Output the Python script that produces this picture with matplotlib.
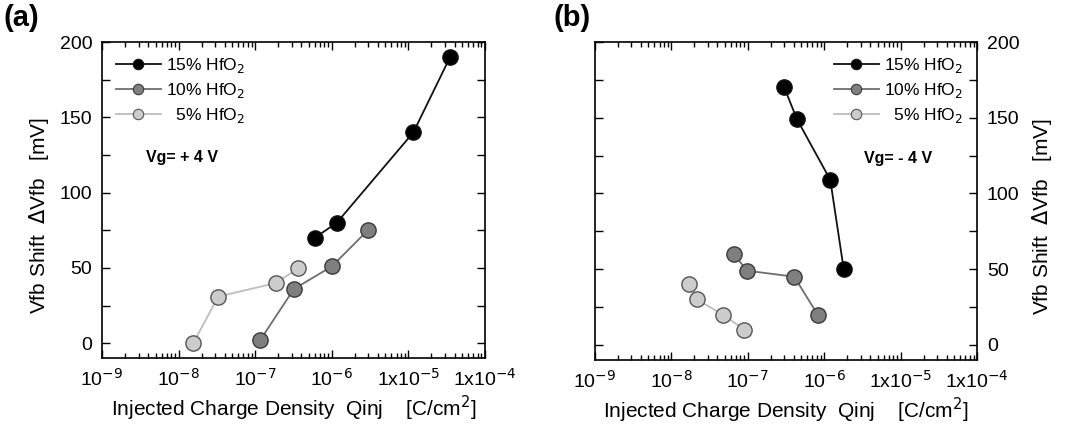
import matplotlib
matplotlib.use('Agg')
import matplotlib.pyplot as plt
from matplotlib.ticker import FixedLocator, FixedFormatter, LogLocator, NullFormatter, MultipleLocator

plt.rcParams['font.family'] = ['Liberation Sans', 'DejaVu Sans']

# Panel (a), Vg = +4 V
a_q15 = [6.0e-7, 1.16e-6, 1.16e-5, 3.5e-5]
a_v15 = [70, 80, 140, 190]
a_q10 = [1.16e-7, 3.2e-7, 1.0e-6, 2.95e-6]
a_v10 = [2, 36, 51, 75]
a_q5 = [1.55e-8, 3.3e-8, 1.88e-7, 3.67e-7]
a_v5 = [0, 31, 40, 50]

# Panel (b), Vg = -4 V
b_q15 = [3.0e-7, 4.4e-7, 1.2e-6, 1.8e-6]
b_v15 = [170, 149, 109, 50]
b_q10 = [6.6e-8, 9.7e-8, 4.05e-7, 8.2e-7]
b_v10 = [60, 49, 45, 20]
b_q5 = [1.72e-8, 2.15e-8, 4.7e-8, 9.0e-8]
b_v5 = [40, 30, 20, 10]

labels = ['15% HfO$_2$', '10% HfO$_2$', '  5% HfO$_2$']
xticks = [1e-9, 1e-8, 1e-7, 1e-6, 1e-5, 1e-4]
xticklabels = ['10$^{-9}$', '10$^{-8}$', '10$^{-7}$', '10$^{-6}$', '1x10$^{-5}$', '1x10$^{-4}$']

styles = [
    dict(color='#111111', mfc='black', mec='#111111', lw=1.3),
    dict(color='#6e6e6e', mfc='#7f7f7f', mec='#3a3a3a', lw=1.3),
    dict(color='#bdbdbd', mfc='#cccccc', mec='#555555', lw=1.3),
]

fig = plt.figure(figsize=(10.65, 4.25), dpi=100)
ax1 = fig.add_axes([0.0958, 0.157, 0.3596, 0.744])
ax2 = fig.add_axes([0.5587, 0.153, 0.3587, 0.748])


def setup(ax, data, legloc, vgtext, vgpos, right=False):
    handles = []
    for (q, v), st in zip(data, styles):
        ax.plot(q, v, marker='o', ms=11, mew=1.0, zorder=3, **st)
        h, = ax.plot([], [], marker='o', ms=7.5, mew=0.8, **st)
        handles.append(h)
    ax.set_xscale('log')
    ax.set_xlim(1e-9, 1e-4)
    ax.set_ylim(-10, 200)
    ax.xaxis.set_major_locator(FixedLocator(xticks))
    ax.xaxis.set_major_formatter(FixedFormatter(xticklabels))
    ax.xaxis.set_minor_locator(LogLocator(base=10, subs=range(2, 10), numticks=20))
    ax.xaxis.set_minor_formatter(NullFormatter())
    ax.yaxis.set_major_locator(MultipleLocator(50))
    ax.yaxis.set_minor_locator(MultipleLocator(25))
    ax.tick_params(which='both', direction='in', top=True, right=True, labelsize=14, width=1.0)
    ax.tick_params(which='major', length=6)
    ax.tick_params(which='minor', length=3.5)
    ax.tick_params(axis='x', pad=7)
    ax.tick_params(axis='y', pad=7)
    ax.tick_params(axis='y', which='minor', length=6)
    for s in ax.spines.values():
        s.set_linewidth(1.2)
    ax.set_xlabel('Injected Charge Density  Qinj    [C/cm$^2$]', fontsize=15, labelpad=3)
    ylab = 'Vfb Shift  $\\Delta$Vfb   [mV]'
    if right:
        ax.yaxis.tick_right()
        ax.tick_params(which='both', left=True, right=True, direction='in')
        ax.yaxis.set_label_position('right')
        ax.set_ylabel(ylab, fontsize=15, rotation=90, labelpad=8)
    else:
        ax.set_ylabel(ylab, fontsize=15, labelpad=6)
    ax.yaxis.label.set_y(0.45)
    ax.legend(handles, labels, loc=legloc, frameon=False, fontsize=12.5,
              handlelength=2.6, handletextpad=0.3, labelspacing=0.35, borderaxespad=0.4)
    ax.text(vgpos[0], vgpos[1], vgtext, transform=ax.transAxes, fontsize=11.5,
            fontweight='bold', va='center')


setup(ax1, [(a_q15, a_v15), (a_q10, a_v10), (a_q5, a_v5)], 'upper left',
      'Vg= + 4 V', (0.115, 0.635))
setup(ax2, [(b_q15, b_v15), (b_q10, b_v10), (b_q5, b_v5)], 'upper right',
      'Vg= - 4 V', (0.705, 0.635), right=True)

fig.text(0.003, 0.99, '(a)', fontsize=21, fontweight='bold', va='top')
fig.text(0.52, 0.99, '(b)', fontsize=21, fontweight='bold', va='top')

fig.savefig('out.png', dpi=100)
